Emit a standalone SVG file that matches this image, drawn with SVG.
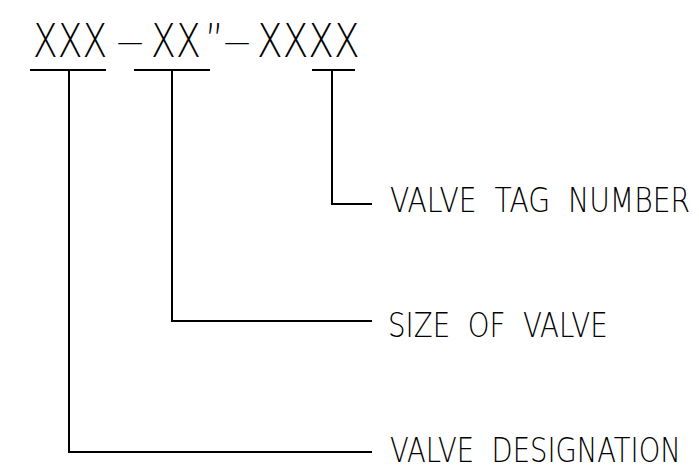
<svg xmlns="http://www.w3.org/2000/svg" width="699" height="472" viewBox="0 0 699 472">
<style>
.t{font-family:"DejaVu Sans","Liberation Sans",sans-serif;font-weight:200;fill:#000}
.lbl{font-size:33px}
.top{font-size:46px}
.dash{font-size:34px}
.ln{fill:none;stroke:#000;stroke-width:2}
</style>
<rect width="699" height="472" fill="#fff"/>
<g id="code">
<text class="t top" transform="translate(33,57) scale(0.79,1)" textLength="94" lengthAdjust="spacingAndGlyphs">XXX</text>
<text class="t dash" transform="translate(117,53) scale(0.79,1)" textLength="33" lengthAdjust="spacingAndGlyphs">—</text>
<text class="t top" transform="translate(151,57) scale(0.79,1)" textLength="63" lengthAdjust="spacingAndGlyphs">XX</text>
<text class="t top" transform="translate(205,57) scale(0.79,1)">”</text>
<text class="t dash" transform="translate(224,53) scale(0.79,1)" textLength="33" lengthAdjust="spacingAndGlyphs">—</text>
<text class="t top" transform="translate(257,57) scale(0.79,1)" textLength="130" lengthAdjust="spacingAndGlyphs">XXXX</text>
</g>
<g id="connectors">
<path class="ln" d="M30 70H106M134 70H210M312 70H355"/>
<path class="ln" d="M69 70V452H372"/>
<path class="ln" d="M172 70V321H372"/>
<path class="ln" d="M332 70V204H372"/>
</g>
<g id="tag"><text class="t lbl" xml:space="preserve" transform="translate(390,212) scale(0.82,1)" textLength="366" lengthAdjust="spacingAndGlyphs">VALVE  TAG  NUMBER</text></g>
<g id="size"><text class="t lbl" xml:space="preserve" transform="translate(388,337) scale(0.82,1)" textLength="268" lengthAdjust="spacingAndGlyphs">SIZE  OF  VALVE</text></g>
<g id="designation"><text class="t lbl" xml:space="preserve" transform="translate(390,462) scale(0.81,1)" textLength="359" lengthAdjust="spacingAndGlyphs">VALVE  DESIGNATION</text></g>
</svg>
